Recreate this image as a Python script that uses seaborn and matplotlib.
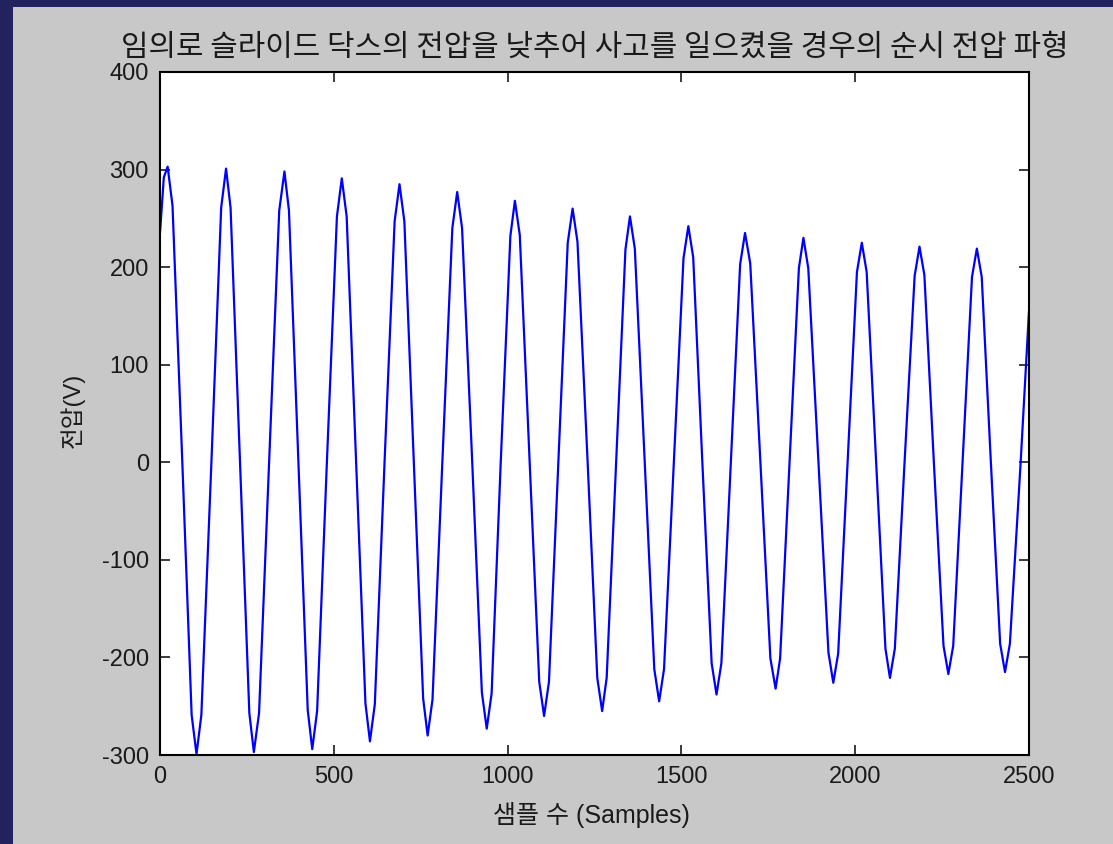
import pandas as pd
import seaborn as sns
import matplotlib.pyplot as plt
from matplotlib.patches import Rectangle

# waveform points (sample index, volts)
sample_idx = [0, 11,
              22, 36, 64, 91, 105, 119, 148, 176, 190, 203, 230, 257, 270, 285, 314, 343,
              358, 371, 398, 425, 438, 452, 480, 509, 523, 537, 564, 591, 604, 618, 646, 675,
              689, 703, 730, 757, 770, 784, 812, 841, 855, 869, 898, 926, 940, 954, 980, 1008,
              1021, 1035, 1063, 1091, 1105, 1119, 1146, 1173, 1187, 1201, 1230, 1258,
              1272, 1285, 1312, 1339, 1352, 1366, 1394, 1422, 1436, 1450, 1478, 1506,
              1520, 1534, 1560, 1587, 1601, 1615, 1642, 1669, 1683, 1698, 1727, 1756,
              1771, 1784, 1811, 1838, 1851, 1865, 1894, 1923, 1937, 1951, 1978, 2005,
              2019, 2033, 2060, 2087, 2100, 2114, 2142, 2171, 2185, 2199, 2226, 2254,
              2268, 2282, 2309, 2336, 2350, 2364, 2390, 2417, 2431, 2445, 2476, 2500]
voltage = [235, 292,
           303, 263, 2, -259, -299, -259, 1, 261, 301, 261, 2, -257, -297, -257, 1, 258,
           298, 258, 2, -254, -294, -255, -1, 252, 291, 252, 2, -247, -286, -248, 0, 247,
           285, 247, 2, -242, -280, -243, -2, 240, 277, 240, 2, -236, -273, -237, -2, 232,
           268, 233, 4, -225, -260, -225, 0, 225, 260, 226, 2, -221,
           -255, -221, -2, 218, 252, 219, 4, -212, -245, -212, -2, 209,
           242, 210, 2, -206, -238, -206, -2, 203, 235, 204, 2, -201,
           -232, -201, -1, 199, 230, 199, 2, -195, -226, -196, -1, 195,
           225, 195, 2, -191, -221, -191, 0, 191, 221, 192, 2, -188,
           -217, -188, 1, 190, 219, 190, 2, -186, -215, -186, 0, 155]

x_ticks = [0, 500, 1000, 1500, 2000, 2500]
y_ticks = [-300, -200, -100, 0, 100, 200, 300, 400]

title = '임의로 슬라이드 닥스의 전압을 낮추어 사고를 일으켰을 경우의 순시 전압 파형'
x_label = '샘플 수 (Samples)'
y_label = '전압(V)'

sns.set_style('ticks')
plt.rcParams['font.family'] = ['Liberation Sans', 'Noto Sans CJK KR']
plt.rcParams['axes.unicode_minus'] = False

W, H = 1113, 844
fig = plt.figure(figsize=(W / 100, H / 100), dpi=100, facecolor='#22225f')
# grey window panel
fig.patches.append(Rectangle((13 / W, 0), 1, 1 - 7 / H, transform=fig.transFigure,
                             facecolor='#c8c8c8', edgecolor='none', zorder=-1))

ax = fig.add_axes([160 / W, 1 - 755 / H, 869 / W, 683 / H])
ax.set_facecolor('white')

df = pd.DataFrame({'Samples': sample_idx, 'Voltage': voltage})
sns.lineplot(data=df, x='Samples', y='Voltage', color='#0000ff', linewidth=1.6,
             estimator=None, sort=False, ax=ax)

ax.set_xlim(0, 2500)
ax.set_ylim(-300, 400)
ax.set_xticks(x_ticks)
ax.set_yticks(y_ticks)
ax.tick_params(direction='in', length=7, width=1.2, top=True, right=True,
               labelsize=17, colors='#1a1a1a', pad=8)
for s in ax.spines.values():
    s.set_visible(True)
    s.set_color('black')
    s.set_linewidth(1.5)

ax.set_title(title, fontsize=21.5, pad=12, color='#1a1a1a',
             family=['Noto Sans CJK KR', 'DejaVu Sans'])
ax.set_xlabel(x_label, fontsize=18, color='#1a1a1a', va='center')
ax.xaxis.set_label_coords(0.497, -0.088)
ax.set_ylabel(y_label, fontsize=17, color='#1a1a1a', va='center')
ax.yaxis.set_label_coords(-0.101, 0.505)

fig.savefig('out.png', dpi=100, facecolor=fig.get_facecolor())
